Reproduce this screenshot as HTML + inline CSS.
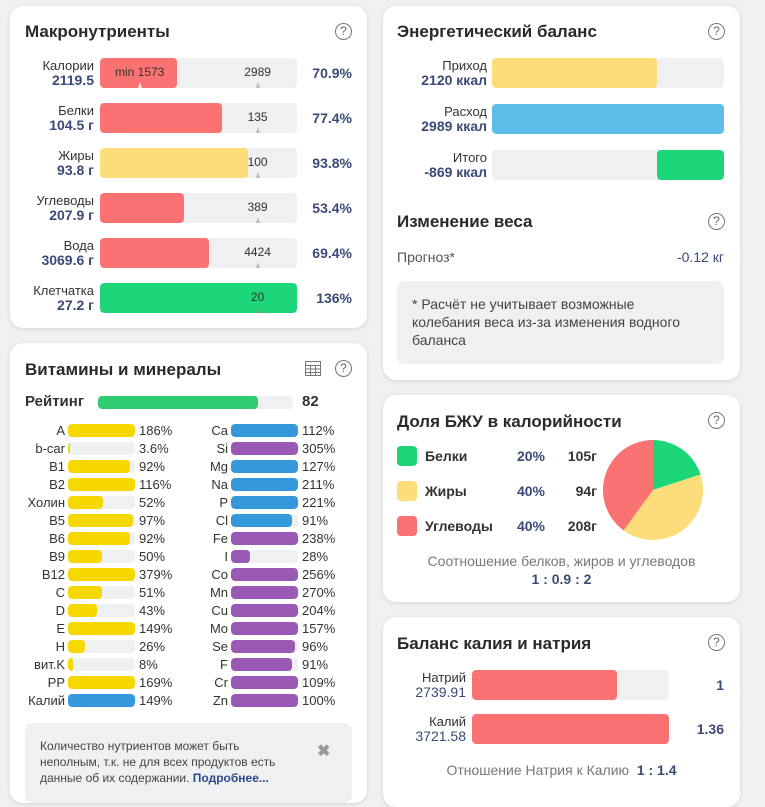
<!DOCTYPE html>
<html><head><meta charset="utf-8"><style>
*{box-sizing:border-box;margin:0;padding:0}
body{width:765px;height:786px;overflow:hidden;background:#eef0f2;font-family:"Liberation Sans",sans-serif;color:#333;position:relative}
.card{position:absolute;background:#fff;border-radius:13px;box-shadow:0 1px 4px rgba(0,0,0,.12)}
.t{position:absolute;font-size:17px;font-weight:bold;color:#2a2a2a}
.q{position:absolute;width:17px;height:17px;border:1.3px solid #777;border-radius:50%;font-size:12px;color:#666;text-align:center;line-height:15px}
.abs{position:absolute;white-space:nowrap}
.lbl{font-size:13px;color:#333;text-align:right;line-height:14px}
.lbl b{display:block;color:#3a4a78;font-size:14px}
.track{position:absolute;background:#eef0f2;border-radius:4px;overflow:hidden}
.fill{position:absolute;left:0;top:0;bottom:0;border-radius:4px}
.pct{font-size:14px;font-weight:bold;color:#3a4a78;text-align:right}
.sm{font-size:12px;color:#333}
.note{position:absolute;background:#eef0f2;border-radius:8px}
</style></head><body>

<div class="card" style="left:10px;top:6px;width:357px;height:322px">
<div class="t" style="left:15px;top:16px">Макронутриенты</div>
<div class="q" style="left:325px;top:17px">?</div>
<div id="macro"></div>
</div>

<div class="card" style="left:383px;top:6px;width:357px;height:374px">
<div class="t" style="left:14px;top:16px">Энергетический баланс</div>
<div class="q" style="left:325px;top:17px">?</div>
<div id="energy"></div>
<div class="t" style="left:14px;top:206px">Изменение веса</div>
<div class="q" style="left:325px;top:207px">?</div>
<div class="abs" style="left:14px;top:243px;font-size:14px;color:#555">Прогноз*</div>
<div class="abs" style="right:16px;top:243px;font-size:14px;color:#3a4a78">-0.12 кг</div>
<div class="note" style="left:14px;top:275px;width:327px;height:83px;padding:14px 40px 12px 15px;font-size:14px;line-height:18px;color:#444">* Расчёт не учитывает возможные колебания веса из-за изменения водного баланса</div>
</div>

<div class="card" style="left:10px;top:343px;width:357px;height:460px">
<div class="t" style="left:15px;top:17px">Витамины и минералы</div>
<svg style="position:absolute;left:295px;top:18px" width="16" height="15"><rect x="0.5" y="0.5" width="15" height="14" fill="none" stroke="#777"/><path d="M0 4.5H16M0 8H16M0 11.5H16M5.5 4V15M10.5 4V15" stroke="#777"/></svg>
<div class="q" style="left:325px;top:17px">?</div>
<div class="abs" style="left:15px;top:50px;font-size:15px;font-weight:bold">Рейтинг</div>
<div class="track" style="left:88px;top:53px;width:195px;height:13px"><div class="fill" id="ratingFill" style="background:#2ecc71"></div></div>
<div class="abs" style="left:292px;top:50px;font-size:15px;font-weight:bold">82</div>
<div id="vit"></div>
<div class="note" style="left:15px;top:380px;width:327px;height:80px;padding:15px 60px 15px 15px;font-size:12px;line-height:16px;color:#444">Количество нутриентов может быть неполным, т.к. не для всех продуктов есть данные об их содержании. <span style="color:#2d4a8a;font-weight:bold">Подробнее...</span></div>
<div class="abs" style="left:307px;top:398px;font-size:16px;color:#999;font-weight:bold">✖</div>
</div>

<div class="card" style="left:383px;top:395px;width:357px;height:207px">
<div class="t" style="left:14px;top:17px">Доля БЖУ в калорийности</div>
<div class="q" style="left:325px;top:17px">?</div>
<div id="bjuLegend"></div>
<svg id="pie" style="position:absolute;left:0;top:0" width="357" height="207"></svg>
<div class="abs" style="left:0;width:357px;text-align:center;top:158px;font-size:14px;color:#777">Соотношение белков, жиров и углеводов</div>
<div class="abs" style="left:0;width:357px;text-align:center;top:176px;font-size:14px;font-weight:bold;color:#3a4a78">1 : 0.9 : 2</div>
</div>

<div class="card" style="left:383px;top:617px;width:357px;height:190px">
<div class="t" style="left:14px;top:17px">Баланс калия и натрия</div>
<div class="q" style="left:325px;top:17px">?</div>
<div id="kna"></div>
<div class="abs" style="left:0;width:357px;text-align:center;top:145px;font-size:14px;color:#777">Отношение Натрия к Калию &nbsp;<b style="color:#3a4a78">1 : 1.4</b></div>
</div>

<script>
const macroNames=["Калории","Белки","Жиры","Углеводы","Вода","Клетчатка"];
const macroValues=["2119.5","104.5 г","93.8 г","207.9 г","3069.6 г","27.2 г"];
const macroTargets=[2989,135,100,389,4424,20];
const macroPcts=[70.9,77.4,93.8,53.4,69.4,136];
const macroColors=["#fb7272","#fb7272","#fddd7a","#fb7272","#fb7272","#1ed67a"];
const calMin=1573;

const energyNames=["Приход","Расход","Итого"];
const energyValues=["2120 ккал","2989 ккал","-869 ккал"];
const energyNums=[2120,2989,-869];

const vitNames=["A","b-car","B1","B2","Холин","B5","B6","B9","B12","C","D","E","H","вит.K","PP","Калий"];
const vitPcts=[186,3.6,92,116,52,97,92,50,379,51,43,149,26,8,169,149];
const vitKinds=["y","y","y","y","y","y","y","y","y","y","y","y","y","y","y","b"];
const minNames=["Ca","Si","Mg","Na","P","Cl","Fe","I","Co","Mn","Cu","Mo","Se","F","Cr","Zn"];
const minPcts=[112,305,127,211,221,91,238,28,256,270,204,157,96,91,109,100];
const minKinds=["b","p","b","b","b","b","p","p","p","p","p","p","p","p","p","p"];
const rating=82;

const bjuNames=["Белки","Жиры","Углеводы"];
const bjuPcts=[20,40,40];
const bjuGrams=["105г","94г","208г"];
const bjuColors=["#1ed67a","#fddd7a","#fb7272"];

const knaNames=["Натрий","Калий"];
const knaValues=[2739.91,3721.58];
const knaRatios=["1","1.36"];

const kindColor={y:"#f4d800",b:"#3498db",p:"#9b59b6"};
function el(parent,cls,style,html){const d=document.createElement('div');if(cls)d.className=cls;d.style.cssText=style;if(html!==undefined)d.innerHTML=html;parent.appendChild(d);return d;}

// macros
const M=document.getElementById('macro');
const bw=197, tgtFrac=0.8;
macroNames.forEach((n,i)=>{
  const y=52+i*45;
  const l=el(M,'abs lbl',`right:273px;top:${y+1}px`,n+'<b>'+macroValues[i]+'</b>');
  
  
  const tr=el(M,'track',`left:90px;top:${y}px;width:${bw}px;height:30px`);
  
  
  let frac=macroPcts[i]/100*tgtFrac;
  if(i===0){frac=frac*frac/tgtFrac*0.97;}
  const w=Math.min(bw,frac*bw);
  el(tr,'fill',`width:${w}px;background:${macroColors[i]}`);
  const tx=tgtFrac*bw;
  el(tr,'abs sm',`left:${tx-20}px;width:40px;text-align:center;top:7px;font-size:12px`,macroTargets[i]);
  el(tr,'abs',`left:${tx-2}px;top:24px;border-left:2px solid transparent;border-right:2px solid transparent;border-bottom:6px solid rgba(150,150,150,.6)`);
  if(i===0){el(tr,'abs sm',`left:15px;top:7px`,'min '+calMin);
    el(tr,'abs',`left:38px;top:24px;border-left:2px solid transparent;border-right:2px solid transparent;border-bottom:6px solid rgba(255,255,255,.8)`);}
  const p=el(M,'abs pct',`right:15px;top:${y+7}px`,macroPcts[i]+'%');
  
  
});

// energy
const E=document.getElementById('energy');
const emax=Math.max(...energyNums);
const ebw=232;
energyNames.forEach((n,i)=>{
  const y=52+i*46;
  const l=el(E,'abs lbl',`right:253px;top:${y+1}px`,n+'<b>'+energyValues[i]+'</b>');
  
  
  const tr=el(E,'track',`left:109px;top:${y}px;width:${ebw}px;height:30px`);
  
  
  const v=energyNums[i];
  if(v>=0){el(tr,'fill',`width:${v/emax*ebw}px;background:${i===0?'#fddd7a':'#5bbde8'}`);}
  else{const w=-v/emax*ebw;el(tr,'fill',`left:${ebw-w}px;width:${w}px;background:#1ed67a`);}
});

// vitamins
const V=document.getElementById('vit');
const rf=document.getElementById('ratingFill');rf.style.width=rating+'%';
function vrow(names,pcts,kinds,lx,prefix){
  names.forEach((n,i)=>{
    const y=81+i*18;
    const a=el(V,'abs',`right:${357-lx+3}px;top:${y-1}px;font-size:13px;color:#333`,n);
    
    
    const tr=el(V,'track',`left:${lx}px;top:${y}px;width:67px;height:13px`);
    
    
    el(tr,'fill',`width:${Math.max(2,Math.min(100,pcts[i]))/100*67}px;background:${kindColor[kinds[i]]}`);
    const p=el(V,'abs',`left:${lx+71}px;top:${y-1}px;font-size:13px;color:#333`,pcts[i]+'%');
    
    
  });
}
vrow(vitNames,vitPcts,vitKinds,58,'vitamin');
vrow(minNames,minPcts,minKinds,221,'mineral');

// bju legend + pie
const B=document.getElementById('bjuLegend');
bjuNames.forEach((n,i)=>{
  const y=51+i*35;
  const s=el(B,'abs',`left:14px;top:${y}px;width:20px;height:20px;border-radius:4px;background:${bjuColors[i]}`);
  
  
  const t=el(B,'abs',`left:42px;top:${y+2}px;font-size:14px;font-weight:bold;color:#333`,n);
  
  
  el(B,'abs',`right:195px;top:${y+2}px;font-size:14px;font-weight:bold;color:#3a4a78`,bjuPcts[i]+'%');
  el(B,'abs',`right:143px;top:${y+2}px;font-size:14px;font-weight:bold;color:#333`,bjuGrams[i]);
});
const P=document.getElementById('pie');
const cx=270,cy=95,r=50;
const tot=bjuPcts.reduce((a,b)=>a+b,0);
let ang=0;
bjuPcts.forEach((v,i)=>{
  const a0=ang,a1=ang+v/tot*2*Math.PI;ang=a1;
  const x0=cx+r*Math.sin(a0),y0=cy-r*Math.cos(a0),x1=cx+r*Math.sin(a1),y1=cy-r*Math.cos(a1);
  const p=document.createElementNS('http://www.w3.org/2000/svg','path');
  p.setAttribute('d',`M${cx},${cy}L${x0},${y0}A${r},${r} 0 ${a1-a0>Math.PI?1:0} 1 ${x1},${y1}Z`);
  p.setAttribute('fill',bjuColors[i]);
  
  
  P.appendChild(p);
});

// K/Na
const K=document.getElementById('kna');
const kmax=Math.max(...knaValues);
knaNames.forEach((n,i)=>{
  const y=53+i*44;
  const l=el(K,'abs lbl',`right:274px;top:${y+1}px;font-size:13px`,n+'<b style="font-weight:normal;font-size:14px">'+knaValues[i]+'</b>');
  
  
  const tr=el(K,'track',`left:89px;top:${y}px;width:197px;height:30px`);
  
  
  el(tr,'fill',`width:${knaValues[i]/kmax*197}px;background:#fb7272`);
  const v=el(K,'abs',`right:16px;top:${y+7}px;font-size:14px;font-weight:bold;color:#3a4a78`,knaRatios[i]);
  
  
});
</script>
</body></html>
